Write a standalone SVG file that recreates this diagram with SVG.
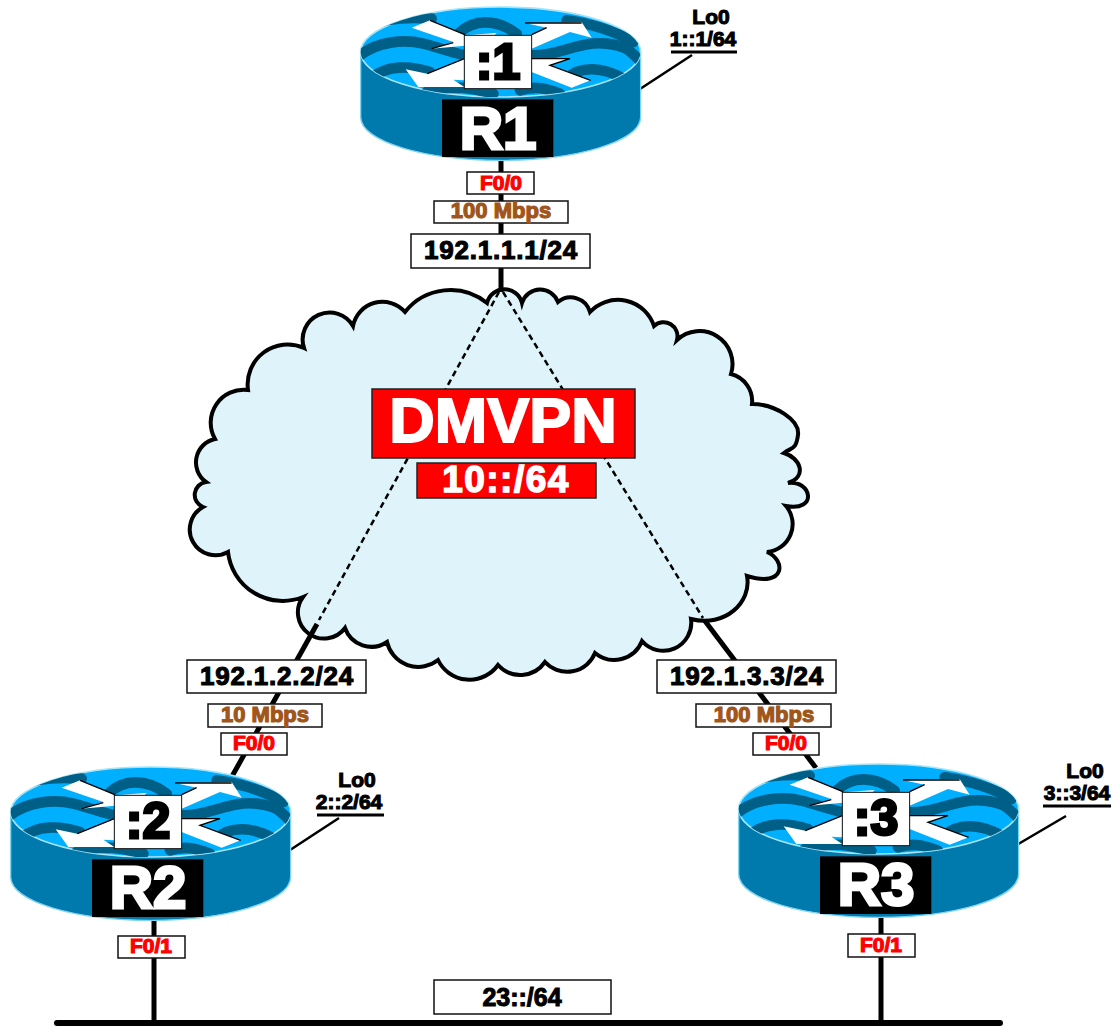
<svg xmlns="http://www.w3.org/2000/svg" width="1117" height="1026" viewBox="0 0 1117 1026">
<style>
text{font-family:"Liberation Sans",Arial,sans-serif;font-weight:700;text-anchor:middle}
.box{fill:#fff;stroke:#111;stroke-width:1.5}
.ip{font-size:26px;fill:#000;stroke:#000;stroke-width:1.1;letter-spacing:.8px}
.sp{font-size:22px;fill:#a0561a;stroke:#a0561a;stroke-width:1.2}
.if{font-size:21px;fill:#f00;stroke:#f00;stroke-width:1.2}
.lo{font-size:21px;fill:#000;stroke:#000;stroke-width:1.1}
.wire{stroke:#000;stroke-width:5;fill:none}
.thin{stroke:#000;stroke-width:2.5;fill:none}
.dash{stroke:#000;stroke-width:2.5;fill:none;stroke-dasharray:6 4}
.id{font-size:50px;fill:#000;stroke:#000;stroke-width:3}
.nm{font-size:60px;fill:#fff;stroke:#fff;stroke-width:3}
.wave{fill:none;stroke:#005f87;stroke-width:32;stroke-linecap:round}
.arrow{fill:#fff}
.edge{fill:none;stroke:#000;stroke-width:4}
</style>
<defs>
<clipPath id="topclip"><ellipse cx="482" cy="155" rx="420" ry="135"/></clipPath>
<g id="router" transform="scale(.3333) translate(-60,-20)">
<path d="M62,155V350C62,425 260,480 482,480S902,425 902,350V155Z" fill="#0079ad" stroke="#7fd4f0" stroke-width="4"/>
<ellipse cx="482" cy="155" rx="420" ry="135" fill="#00b0ff" stroke="#a8e4f5" stroke-width="5"/>
<g clip-path="url(#topclip)">
<path class="wave" d="M60,165C110,125 190,115 250,130S340,160 400,170"/>
<path class="wave" d="M100,230C140,195 210,195 270,215"/>
<path class="wave" d="M355,100C400,55 470,55 530,100"/>
<path class="wave" d="M570,165C650,170 720,120 800,130S870,160 905,185"/>
<path class="wave" d="M680,235C720,195 790,200 850,235"/>
<path class="wave" d="M80,80C140,50 210,50 275,55"/>
<path class="wave" d="M680,60C750,70 820,90 880,125"/>
<path class="wave" d="M260,275C350,250 400,265 460,280"/>
<path class="wave" d="M540,270C590,255 620,265 660,280"/>
</g>
<path class="arrow" d="M215,82L270,60L375,105L470,98L440,130L275,145L340,125Z"/>
<path class="arrow" d="M555,68L725,65L755,112L690,95L575,145L575,105L620,82Z"/>
<path class="arrow" d="M197,207L262,220L373,175V240L340,238L373,260H235Z"/>
<path class="arrow" d="M575,175H690L630,195L752,240L695,262L575,215Z"/>
<path class="edge" d="M270,60L375,103M275,145L340,127M262,220L373,175M555,68H725M575,103L620,82M575,175H690L630,195L752,240"/>
<rect x="373" y="105" width="202" height="160" fill="#fff" stroke="#111" stroke-width="3"/>
<rect x="306" y="297" width="334" height="173" fill="#000"/>
</g>
</defs>
<g id="cloud">
<path d="M487,303A18,18 0 0 1 522,303A19,19 0 0 1 558,302A20,20 0 0 1 590,312A38,38 0 0 1 654,326A14,14 0 0 1 677,340A33,33 0 0 1 731,374A28,28 0 0 1 752,404C775,404 800,420 798,435S792,447 784,453C800,458 808,476 788,483C812,480 818,512 786,506A28,28 0 0 1 767,552C786,560 786,588 747,576C752,602 725,628 691,619A28,28 0 0 1 642,641A30,30 0 0 1 595,653A30,30 0 0 1 545,662A30,30 0 0 1 498,665A35,35 0 0 1 438,660A32,32 0 0 1 387,642A28,28 0 0 1 345,628A25,25 0 0 1 303,597A55,55 0 0 1 228,552A25,25 0 0 1 203,507A13,13 0 0 1 206,482A24,24 0 0 1 215,439A33,33 0 0 1 248,390A40,40 0 0 1 304,348A27,27 0 0 1 353,326A30,30 0 0 1 405,312A58,58 0 0 1 487,303Z" fill="#dff4fa" stroke="#000" stroke-width="4" stroke-linejoin="miter"/>
</g>
<g id="connectors">
<path class="wire" d="M501,157V292"/>
<path class="wire" d="M317,624L230,780"/>
<path class="wire" d="M705,621L816,768"/>
<path class="wire" d="M154,916V1022"/>
<path class="wire" d="M881,914V1022"/>
<path class="dash" d="M499,292L319,620"/>
<path class="dash" d="M503,292L703,618"/>
<path class="thin" d="M692,55L640,89"/>
<path class="thin" d="M339,818L287,852"/>
<path class="thin" d="M1066,816L1015,846"/>
<path d="M57,1023H1000" stroke="#000" stroke-width="6" stroke-linecap="round"/>
</g>
<g id="dmvpn">
<rect x="372" y="389" width="263" height="69" fill="#f00" stroke="#222" stroke-width="1.5"/>
<text x="503" y="442" font-size="63" fill="#fff" stroke="#fff" stroke-width="2">DMVPN</text>
</g>
<g id="subnet10">
<rect x="417" y="463" width="179" height="35" fill="#f00" stroke="#222" stroke-width="1.5"/>
<text x="506" y="492" font-size="37" fill="#fff" stroke="#fff" stroke-width="1.5" letter-spacing="1.5">10::/64</text>
</g>
<g id="R1">
<use href="#router" transform="translate(360,7)"/>
<text class="id" x="498" y="79">:1</text>
<text class="nm" x="498" y="149">R1</text>
</g>
<g id="R2">
<use href="#router" transform="translate(10,767)"/>
<text class="id" x="148" y="838">:2</text>
<text class="nm" x="148" y="908">R2</text>
</g>
<g id="R3">
<use href="#router" transform="translate(738,764)"/>
<text class="id" x="876" y="835">:3</text>
<text class="nm" x="876" y="905">R3</text>
</g>
<g id="R1-labels">
<rect class="box" x="467" y="172" width="67" height="22"/><text class="if" x="501" y="190">F0/0</text>
<rect class="box" x="434" y="201" width="134" height="22"/><text class="sp" x="501" y="218">100 Mbps</text>
<rect class="box" x="411" y="234" width="179" height="34"/><text class="ip" x="501" y="259">192.1.1.1/24</text>
<text class="lo" x="711" y="24">Lo0</text><text class="lo" x="703" y="46">1::1/64</text>
<path d="M671,52H737" stroke="#000" stroke-width="3"/>
</g>
<g id="R2-labels">
<rect class="box" x="187" y="660" width="179" height="33"/><text class="ip" x="277" y="685">192.1.2.2/24</text>
<rect class="box" x="208" y="704" width="114" height="23"/><text class="sp" x="265" y="722">10 Mbps</text>
<rect class="box" x="221" y="733" width="66" height="22"/><text class="if" x="254" y="750">F0/0</text>
<rect class="box" x="118" y="936" width="67" height="22"/><text class="if" x="151" y="953">F0/1</text>
<text class="lo" x="357" y="787">Lo0</text><text class="lo" x="349" y="809">2::2/64</text>
<path d="M317,815H384" stroke="#000" stroke-width="3"/>
</g>
<g id="R3-labels">
<rect class="box" x="657" y="660" width="179" height="33"/><text class="ip" x="747" y="685">192.1.3.3/24</text>
<rect class="box" x="696" y="704" width="135" height="23"/><text class="sp" x="764" y="722">100 Mbps</text>
<rect class="box" x="753" y="733" width="66" height="22"/><text class="if" x="786" y="750">F0/0</text>
<rect class="box" x="848" y="934" width="67" height="23"/><text class="if" x="881" y="952">F0/1</text>
<text class="lo" x="1085" y="778">Lo0</text><text class="lo" x="1077" y="800">3::3/64</text>
<path d="M1043,806H1111" stroke="#000" stroke-width="3"/>
</g>
<g id="segment23">
<rect class="box" x="434" y="980" width="177" height="34"/><text x="522" y="1006" font-size="25" fill="#000" stroke="#000" stroke-width="1">23::/64</text>
</g>
</svg>
